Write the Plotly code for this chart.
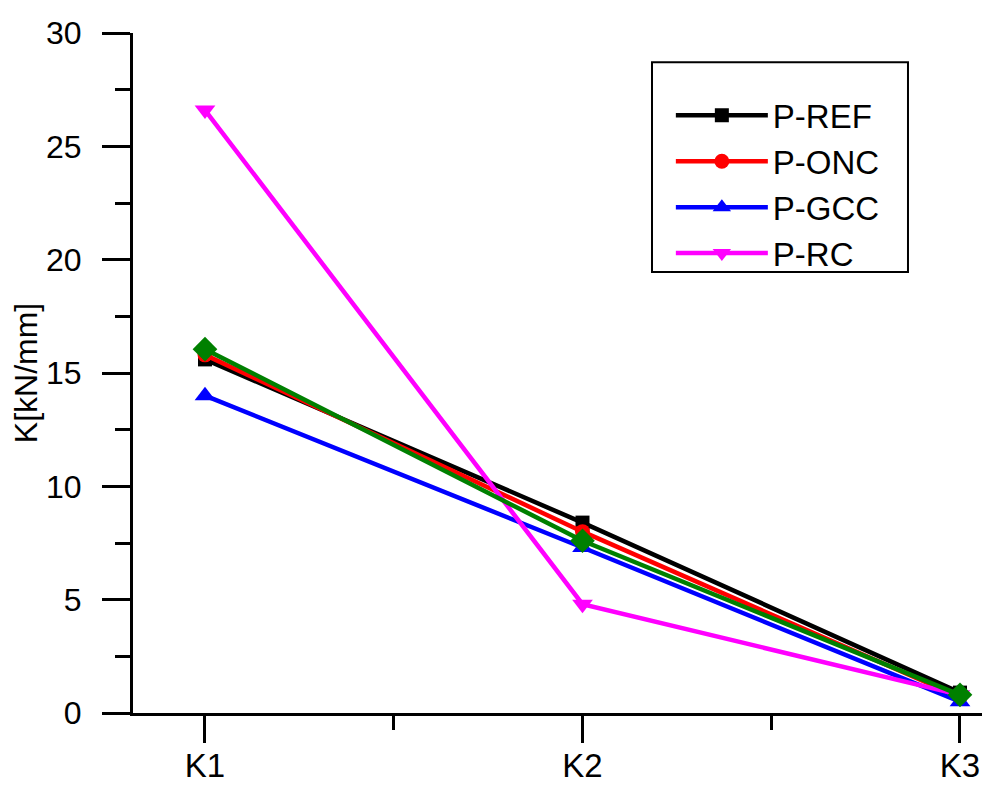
import plotly.graph_objects as go

categories = ["K1", "K2", "K3"]
p_ref = [15.6, 8.4, 0.9]
p_onc = [15.8, 8.0, 0.7]
p_gcc = [14.0, 7.3, 0.5]
p_rc = [26.6, 4.8, 0.8]
p_green = [16.05, 7.6, 0.8]

xpos = list(range(len(categories)))

fig = go.Figure()

def add(name, vals, color, symbol, size, show=True):
    fig.add_trace(go.Scatter(
        x=xpos, y=vals, name=name, mode="lines+markers",
        line=dict(color=color, width=4.5),
        marker=dict(symbol=symbol, size=size, color=color),
        showlegend=show, legendgroup=name,
    ))

add("P-REF", p_ref, "#000000", "square", 14)
add("P-ONC", p_onc, "#ff0000", "circle", 15)
add("P-GCC", p_gcc, "#0000ff", "triangle-up", 18)
add("P-RC", p_rc, "#ff00ff", "triangle-down", 18)
add("P-OTHER", p_green, "#008000", "diamond", 19, show=False)

# page offset of 8px (body margin) compensated
fig.update_layout(
    width=982, height=777,
    margin=dict(l=125, r=0, t=25, b=72, autoexpand=False),
    paper_bgcolor="white", plot_bgcolor="white",
    font=dict(family="Liberation Sans, Arial, sans-serif", size=30, color="black"),
    showlegend=True,
    legend=dict(
        x=0.6056 + 0.022, y=0.92, xanchor="left", yanchor="top",
        borderwidth=0, bgcolor="rgba(0,0,0,0)",
        font=dict(size=33), itemwidth=92,
        tracegroupgap=0,
    ),
    shapes=[dict(
        type="rect", xref="paper", yref="paper",
        x0=0.6056, x1=0.9043, y0=0.6485, y1=0.957,
        line=dict(color="black", width=2), fillcolor="rgba(0,0,0,0)", layer="below",
    )],
    xaxis=dict(
        range=[-0.1907, 2.0795],
        tickvals=xpos, ticktext=categories,
        ticks="outside", ticklen=27, tickwidth=3, tickcolor="black",
        minor=dict(tickvals=[0.5, 1.5], ticks="outside", ticklen=14, tickwidth=3, tickcolor="black"),
        showline=True, linewidth=3, linecolor="black",
        showgrid=False, zeroline=False, automargin=False,
        tickfont=dict(size=33), ticklabelstandoff=-6,
    ),
    yaxis=dict(
        range=[0, 30],
        tickvals=[0, 5, 10, 15, 20, 25, 30],
        ticks="outside", ticklen=28, tickwidth=3, tickcolor="black",
        minor=dict(tickvals=[2.5, 7.5, 12.5, 17.5, 22.5, 27.5], ticks="outside", ticklen=15, tickwidth=3, tickcolor="black"),
        showline=True, linewidth=3, linecolor="black",
        showgrid=False, zeroline=False, automargin=False,
        tickfont=dict(size=32), ticklabelstandoff=14,
        title=dict(text="K[kN/mm]", font=dict(size=32), standoff=2),
    ),
)

fig.write_html("out.html")
